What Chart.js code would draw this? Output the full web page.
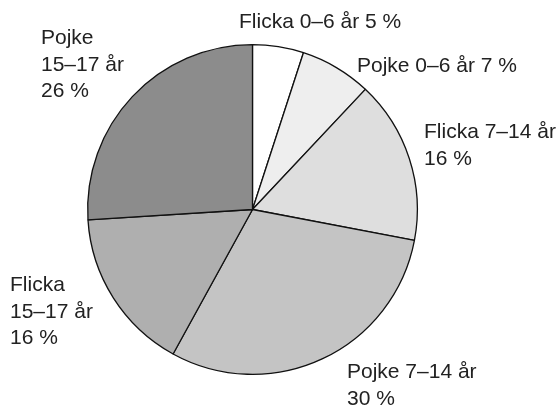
<!DOCTYPE html>
<html>
<head>
    <title>Pie</title>
    <script src="https://cdn.jsdelivr.net/npm/chart.js"></script>
    <style>
        body { margin: 0; background: #fff; }
    </style>
</head>
<body>
    <canvas id="myChart" width="558" height="405"></canvas>
    <script>
    // data, clockwise from the top
    const categories = ['Flicka 0–6 år', 'Pojke 0–6 år', 'Flicka 7–14 år', 'Pojke 7–14 år', 'Flicka 15–17 år', 'Pojke 15–17 år'];
    const shares = [5, 7, 16, 30, 16, 26];
    const sliceColors = ['#ffffff', '#eeeeee', '#dedede', '#c4c4c4', '#afafaf', '#8c8c8c'];

    // how each label is broken into lines, and where it sits (left x, first baseline)
    const labelLines = [
        ['Flicka 0–6 år 5 %'],
        ['Pojke 0–6 år 7 %'],
        ['Flicka 7–14 år', '16 %'],
        ['Pojke 7–14 år', '30 %'],
        ['Flicka', '15–17 år', '16 %'],
        ['Pojke', '15–17 år', '26 %']
    ];
    const labelPos = [[239, 28], [357, 72], [424, 138], [347, 378], [10, 291], [41, 44]];
    const lineHeight = 26.5;

    const labelPlugin = {
        id: 'pieLabels',
        afterDraw(chart) {
            const ctx = chart.ctx;
            ctx.save();
            ctx.font = '21px "Liberation Sans", Arial, sans-serif';
            ctx.fillStyle = '#222';
            ctx.textAlign = 'left';
            ctx.textBaseline = 'alphabetic';
            labelLines.forEach((lines, i) => {
                lines.forEach((t, j) => {
                    ctx.fillText(t, labelPos[i][0], labelPos[i][1] + j * lineHeight);
                });
            });
            ctx.restore();
        }
    };

    const ctx = document.getElementById('myChart').getContext('2d');
    const myChart = new Chart(ctx, {
        type: 'pie',
        data: {
            labels: categories,
            datasets: [{
                data: shares,
                backgroundColor: sliceColors,
                borderColor: '#111',
                borderWidth: 1.3
            }]
        },
        options: {
            responsive: false,
            animation: false,
            devicePixelRatio: 1,
            layout: {
                padding: { top: 44, bottom: 30, left: 87, right: 140 }
            },
            plugins: {
                legend: { display: false },
                tooltip: { enabled: false }
            }
        },
        plugins: [labelPlugin]
    });
    </script>
</body>
</html>
